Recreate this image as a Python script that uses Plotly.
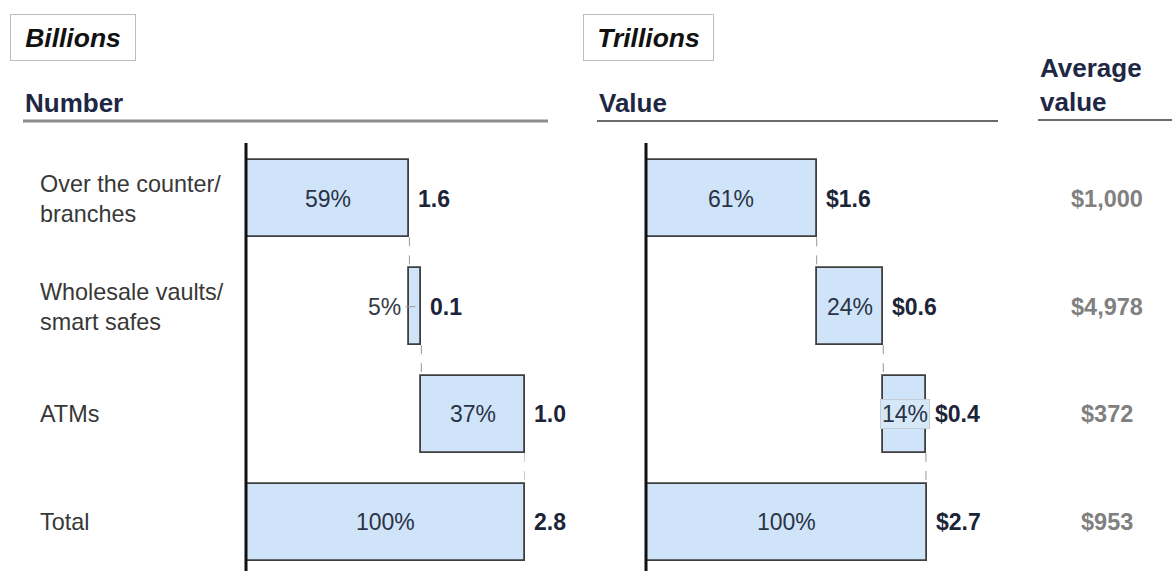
import plotly.graph_objects as go

W, H = 1172, 571

# ---------------- data ----------------
categories = ["Over the counter/<br>branches", "Wholesale vaults/<br>smart safes", "ATMs", "Total"]
number_values = [1.64, 0.12, 1.04, 2.8]        # billions
number_shares = [59, 5, 37, 100]               # %
value_values = [1.64, 0.64, 0.41, 2.7]         # trillions
value_shares = [61, 24, 14, 100]               # %
average_values = ["$1,000", "$4,978", "$372", "$953"]

FONT = "Arial, 'Liberation Sans', sans-serif"
NAVY = "#1c2438"
FILL = "#cfe3f9"
EDGE = "#3f3f3f"
BAR_W = 0.714

def px_x(p):
    return p / W

def px_y(p):
    return 1 - p / H

def waterfall_bases(vals):
    bases, run = [], 0.0
    for i, v in enumerate(vals):
        if i == len(vals) - 1:
            bases.append(0.0)
        else:
            bases.append(run)
            run += v
    return bases

ypos = list(range(len(categories)))

fig = go.Figure()
annotations = []
shapes = []

panels = [
    dict(vals=number_values, shares=number_shares, xa="x", axname="xaxis",
         dom=(246, 525), rng=(0, 2.8), prefix=""),
    dict(vals=value_values, shares=value_shares, xa="x2", axname="xaxis2",
         dom=(646, 927), rng=(0, 2.7), prefix="$"),
]

for p in panels:
    vals = p["vals"]
    bases = waterfall_bases(vals)
    fig.add_trace(go.Bar(
        orientation="h", y=ypos, x=vals, base=bases, width=BAR_W,
        xaxis=p["xa"], yaxis="y",
        marker=dict(color=FILL, line=dict(color=EDGE, width=1.8)),
        hoverinfo="skip", showlegend=False,
    ))
    ppu = (p["dom"][1] - p["dom"][0]) / (p["rng"][1] - p["rng"][0])
    for i, (v, b, s) in enumerate(zip(vals, bases, p["shares"])):
        end = b + v
        # value label
        annotations.append(dict(
            x=end, y=i, xref=p["xa"], yref="y", xanchor="left", yanchor="middle",
            xshift=7, showarrow=False, text=f"<b>{p['prefix']}{v:.1f}</b>",
            font=dict(family=FONT, size=23, color=NAVY)))
        wpx = v * ppu
        if wpx < 25:
            annotations.append(dict(
                x=b, y=i, xref=p["xa"], yref="y", xanchor="right", yanchor="middle",
                xshift=-6, showarrow=False, text=f"{s}%",
                font=dict(family=FONT, size=23, color="#333a48")))
            shapes.append(dict(type="line", xref=p["xa"], yref="y",
                               x0=b - 0.04, x1=b + v / 2, y0=i, y1=i,
                               line=dict(color="#9a9a9a", width=1)))
        elif wpx < 60:
            annotations.append(dict(
                x=b + v / 2, y=i, xref=p["xa"], yref="y", xanchor="center",
                yanchor="middle", showarrow=False, text=f"{s}%",
                bgcolor="#d6e7f8", bordercolor="#c4ccd6", borderwidth=1, borderpad=1,
                font=dict(family=FONT, size=23, color="#2a3346")))
        else:
            annotations.append(dict(
                x=b + v / 2, y=i, xref=p["xa"], yref="y", xanchor="center",
                yanchor="middle", showarrow=False, text=f"{s}%",
                font=dict(family=FONT, size=23, color="#2a3346")))
        # dashed connector to next bar
        if i < len(vals) - 1:
            shapes.append(dict(type="line", xref=p["xa"], yref="y",
                               x0=end, x1=end, y0=i + BAR_W / 2, y1=i + 1 - BAR_W / 2,
                               line=dict(color="#9a9a9a", width=1, dash="dash")))
    # vertical baseline axis (at the x=0 edge of the panel, in paper coordinates so it is not clipped)
    x0p = px_x(p["dom"][0])
    shapes.append(dict(type="line", xref="paper", yref="paper", x0=x0p, x1=x0p,
                       y0=0, y1=px_y(143), line=dict(color="#111111", width=3)))
    fig.layout[p["axname"]] = dict(
        domain=[px_x(p["dom"][0]), px_x(p["dom"][1])], range=list(p["rng"]),
        showgrid=False, zeroline=False, showticklabels=False, showline=False,
        anchor="y", fixedrange=True)

# category labels
for i, c in enumerate(categories):
    annotations.append(dict(
        x=px_x(38), y=i, xref="paper", yref="y", xanchor="left", yanchor="middle",
        align="left", showarrow=False, text=c,
        font=dict(family=FONT, size=23.4, color="#383838")))

# average value column
for i, a in enumerate(average_values):
    annotations.append(dict(
        x=px_x(1107), y=i, xref="paper", yref="y", xanchor="center", yanchor="middle",
        showarrow=False, text=f"<b>{a}</b>",
        font=dict(family=FONT, size=23.5, color="#808080")))

# unit boxes
for txt, cx, bw in [("Billions", 73, 118), ("Trillions", 648.5, 123)]:
    annotations.append(dict(
        x=px_x(cx), y=px_y(37.5), xref="paper", yref="paper", xanchor="center",
        yanchor="middle", showarrow=False, text=f"<b><i>{txt}</i></b>",
        width=bw, height=39, borderpad=3, borderwidth=1, bordercolor="#bdbdbd",
        bgcolor="#ffffff", font=dict(family=FONT, size=26.5, color="#111111")))

# column headers
for txt, x0, yc in [("Number", 23, 103), ("Value", 597, 103), ("Average<br>value", 1038, 85)]:
    annotations.append(dict(
        x=px_x(x0), y=px_y(yc), xref="paper", yref="paper", xanchor="left",
        yanchor="middle", align="left", showarrow=False, text=f"<b>{txt}</b>",
        font=dict(family=FONT, size=26, color="#1e2744")))

# header underlines
shapes += [
    dict(type="line", xref="paper", yref="paper", x0=px_x(23), x1=px_x(548),
         y0=px_y(121), y1=px_y(121), line=dict(color="#8c8c8c", width=3)),
    dict(type="line", xref="paper", yref="paper", x0=px_x(597), x1=px_x(998),
         y0=px_y(121), y1=px_y(121), line=dict(color="#3a3a3a", width=1.5)),
    dict(type="line", xref="paper", yref="paper", x0=px_x(1038), x1=1,
         y0=px_y(120), y1=px_y(120), line=dict(color="#3a3a3a", width=1.5)),
]

fig.update_layout(
    width=W, height=H, margin=dict(l=0, r=0, t=0, b=0),
    paper_bgcolor="white", plot_bgcolor="rgba(0,0,0,0)",
    barmode="overlay", bargap=0,
    yaxis=dict(domain=[0, px_y(145)], range=[3.452, -0.5], showgrid=False,
               zeroline=False, showticklabels=False, showline=False, anchor="x",
               fixedrange=True),
    annotations=annotations, shapes=shapes,
)

fig.write_html("out.html", config={"displayModeBar": False},
               post_script="document.body.style.margin='0';document.body.style.padding='0';")
